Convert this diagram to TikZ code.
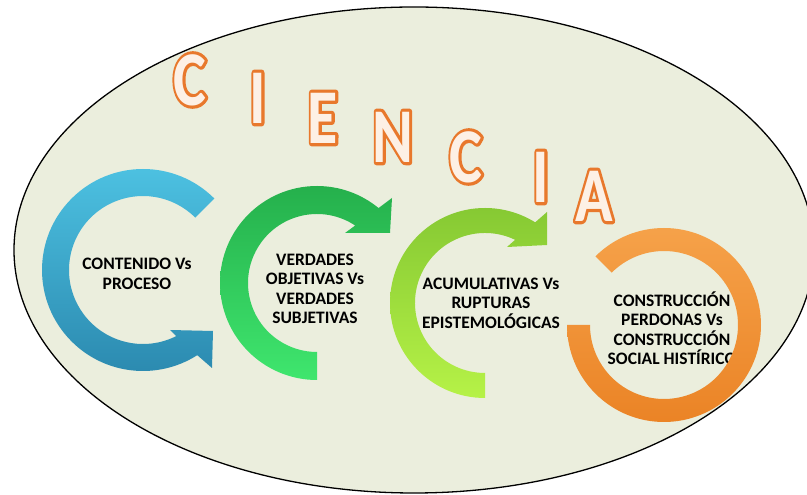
\documentclass[tikz,border=0pt]{standalone}
\usepackage{fontspec}
\setmainfont{Carlito}

\definecolor{bgfill}{HTML}{EBEEDD}
\definecolor{blueL}{HTML}{4EC3E3}
\definecolor{blueD}{HTML}{2A88AE}
\definecolor{greenD}{HTML}{25B04C}
\definecolor{greenL}{HTML}{3FE66E}
\definecolor{limeD}{HTML}{86C933}
\definecolor{limeL}{HTML}{B6F247}
\definecolor{orangeL}{HTML}{F6A34B}
\definecolor{orangeD}{HTML}{EA8224}
\definecolor{ltrline}{HTML}{E8782C}
\definecolor{ltrfill}{HTML}{FDF0E5}

% orange outline round a light letter
\newcommand{\ltrstroke}[1]{%
  \rlap{\color{ltrline}\special{pdf:literal direct 2 Tr 5 w 1 j}#1%
    \special{pdf:literal direct 0 Tr}}#1}

\begin{document}
\begin{tikzpicture}[x=1pt,y=1pt,
    ltr/.style={inner sep=0pt,text=ltrfill,
      font=\fontsize{62}{62}\selectfont\bfseries},
    lbl/.style={align=center,inner sep=0pt,text=black,
      font=\fontsize{17.5}{19.5}\selectfont\bfseries}]

  \useasboundingbox (0,0) rectangle (807,495);

  \begin{scope}
    \clip (0,0) rectangle (807,495);
    \filldraw[fill=bgfill,draw=black,line width=1.3pt]
      (414,245) ellipse [x radius=400,y radius=243];
  \end{scope}

  \foreach \l/\x/\y [count=\i] in {C/190/415,I/258/397,E/323/377,N/393/358,
                                   C/466/338,I/541/318,A/594/299}
    \node[ltr] (l\i) at (\x,\y) {\scalebox{1}[1.25]{\ltrstroke{\l}}};

  \begin{scope}[shift={(143,225)}]
    \path[top color=blueL,bottom color=blueD]
      (45:74) -- (45:101) arc[start angle=45,end angle=302.5,radius=101]
      -- (69,-98) -- (70,-61) -- (27,-60)
      -- (296.7:74) arc[start angle=296.7,end angle=45,radius=74] -- cycle;
  \end{scope}

  \begin{scope}[shift={(317,212)}]
    \path[top color=greenD,bottom color=greenL]
      (270:69) -- (270:97) arc[start angle=270,end angle=50.6,radius=97]
      -- (75,85) -- (73,50) -- (28,50)
      -- (56.4:69) arc[start angle=56.4,end angle=270,radius=69] -- cycle;
  \end{scope}

  \begin{scope}[shift={(485,192)}]
    \path[top color=limeD,bottom color=limeL]
      (270:70) -- (270:95) arc[start angle=270,end angle=58.1,radius=95]
      -- (62,91) -- (62,58) -- (22,56)
      -- (64.5:70) arc[start angle=64.5,end angle=270,radius=70] -- cycle;
  \end{scope}

  \node[lbl] (t1) at (137,221) {CONTENIDO Vs\\PROCESO};
  \node[lbl] (t2) at (315,206) {VERDADES\\OBJETIVAS Vs\\VERDADES\\SUBJETIVAS};
  \node[lbl] (t3) at (491,192) {ACUMULATIVAS Vs\\RUPTURAS\\EPISTEMOLÓGICAS};
  \node[lbl] (t4) at (672,167) {CONSTRUCCIÓN\\PERDONAS Vs\\CONSTRUCCIÓN\\SOCIAL HISTÍRICO};

  \begin{scope}[shift={(664,170)}]
    \path[top color=orangeL,bottom color=orangeD]
      (135:74) -- (135:97) arc[start angle=135,end angle=-180,radius=97]
      -- (180:74) arc[start angle=-180,end angle=135,radius=74] -- cycle;
  \end{scope}

\end{tikzpicture}
\end{document}
